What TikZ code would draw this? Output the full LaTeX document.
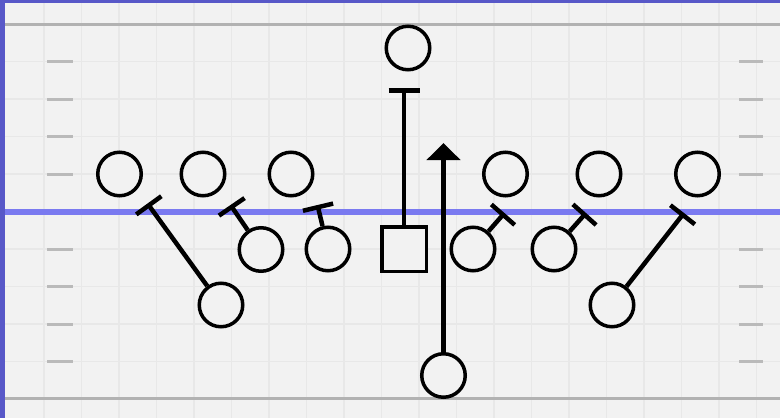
\documentclass[tikz,border=0pt]{standalone}
\usetikzlibrary{arrows.meta}
\definecolor{bgblue}{RGB}{88,88,200}
\definecolor{field}{RGB}{242,242,242}
\definecolor{gridc}{RGB}{232,232,232}
\definecolor{yard}{RGB}{178,178,178}
\definecolor{hashc}{RGB}{186,186,186}
\definecolor{scrim}{RGB}{122,122,240}
\tikzset{
  player/.style={circle,draw=black,line width=3.5pt,fill=field,minimum size=43.5pt,inner sep=0pt},
  centerbox/.style={rectangle,draw=black,line width=3.5pt,fill=field,minimum size=44.5pt,inner sep=0pt},
  block/.style={draw=black,line width=4.5pt,-{Bar[width=31pt]}},
  run/.style={draw=black,line width=4.5pt,-{Triangle[width=33pt,length=17pt]}},
  gridline/.style={draw=gridc,line width=1.5pt},
  hash/.style={draw=hashc,line width=3pt},
  yardline/.style={draw=yard,line width=3pt}
}
\begin{document}
\begin{tikzpicture}[x=1pt,y=-1pt]
\useasboundingbox (0,0) rectangle (780,418);
\fill[bgblue] (0,0) rectangle (780,418);
\fill[field] (5,3) rectangle (780,418);
% grid
\foreach \k in {1,...,20} {\draw[gridline] ({6.5+37.5*\k},3) -- ({6.5+37.5*\k},418);}
\foreach \k in {1,...,9} {\draw[gridline] (5,{24+37.5*\k}) -- (780,{24+37.5*\k});}
% yard lines
\draw[yardline] (5,24) -- (780,24);
\draw[yardline] (5,398) -- (780,398);
% hash marks
\foreach \y in {61.5,99,136.5,174,249,286.5,324,361.5} {
  \draw[hash] (47,\y) -- (73,\y);
  \draw[hash] (739,\y) -- (763,\y);
}
% line of scrimmage
\draw[scrim,line width=6pt] (5,211.5) -- (780,211.5);
% players
\node[player] (ol1) at (119.5,174) {};
\node[player] (ol2) at (203,174) {};
\node[player] (ol3) at (291,174) {};
\node[player] (or1) at (505.5,174) {};
\node[player] (or2) at (599,174) {};
\node[player] (or3) at (697.5,174) {};
\node[player] (otop) at (408,48) {};
\node[player] (dl1) at (221,305) {};
\node[player] (dl2) at (261,249.5) {};
\node[player] (dl3) at (328,249) {};
\node[centerbox] (c) at (404,249) {};
\node[player] (dr1) at (473,249) {};
\node[player] (dr2) at (554,249) {};
\node[player] (dr3) at (612,305) {};
\node[player] (rb) at (443.5,375.5) {};
% block ends
\coordinate (t1) at (147.5,203.5);
\coordinate (t2) at (230.5,205);
\coordinate (t3) at (317.5,205);
\coordinate (tc) at (404,88);
\coordinate (t4) at (504.5,213);
\coordinate (t5) at (586,213);
\coordinate (t6) at (684,213);
\coordinate (ta) at (443.5,143);
\draw[block] (dl1) -- (t1);
\draw[block] (dl2) -- (t2);
\draw[block] (dl3) -- (t3);
\draw[block] (c) -- (tc);
\draw[block] (dr1) -- (t4);
\draw[block] (dr2) -- (t5);
\draw[block] (dr3) -- (t6);
\draw[run] (rb) -- (ta);
\end{tikzpicture}
\end{document}
